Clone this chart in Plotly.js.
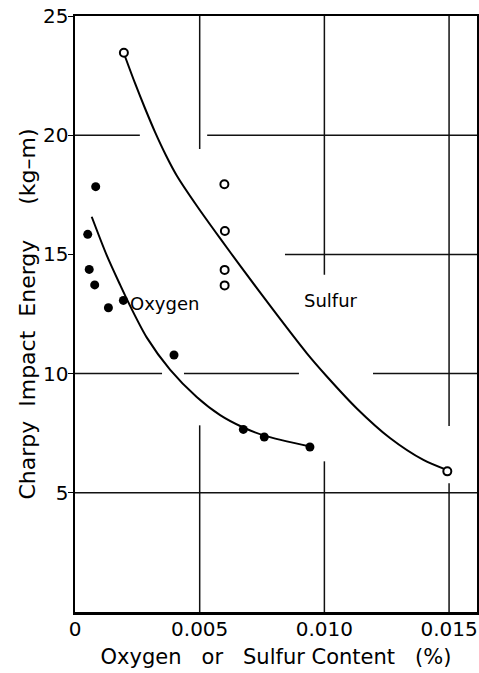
<!DOCTYPE html>
<html>
<head>
<meta charset="utf-8">
<script src="https://cdn.plot.ly/plotly-3.0.1.min.js"></script>
<style>html,body{margin:0;padding:0;background:#fff;}#chart{width:479px;height:673px;}</style>
</head>
<body>
<div id="chart"></div>
<script>
// Measured data points
const oxygenX = [0.00051, 0.00057, 0.00079, 0.00083, 0.00134, 0.00194, 0.00397, 0.00675, 0.00759, 0.00942];
const oxygenY = [15.84, 14.37, 13.72, 17.84, 12.76, 13.07, 10.78, 7.66, 7.34, 6.92];
const sulfurX = [0.00196, 0.00599, 0.00601, 0.00600, 0.00600, 0.01493];
const sulfurY = [23.46, 17.94, 15.98, 14.35, 13.70, 5.90];

// Fitted curves
const oxygenCurveX = [0.00067, 0.00127, 0.00181, 0.00221, 0.00288, 0.00381, 0.00488, 0.00582, 0.00675, 0.00759, 0.00943];
const oxygenCurveY = [16.58, 14.97, 13.72, 12.84, 11.51, 10.17, 9.02, 8.26, 7.74, 7.40, 6.94];
const sulfurCurveX = [0.00201, 0.00241, 0.00281, 0.00321, 0.00365, 0.00409, 0.00489, 0.00582, 0.00662, 0.00795, 0.00929, 0.01010, 0.01130, 0.01263, 0.01397, 0.01491];
const sulfurCurveY = [23.29, 22.17, 21.12, 20.13, 19.15, 18.29, 17.03, 15.67, 14.53, 12.67, 10.86, 9.88, 8.54, 7.30, 6.38, 5.96];

// Axis ticks
const xTickVals = [0, 0.005, 0.010, 0.015];
const xTickText = ['0', '0.005', '0.010', '0.015'];
const yTickVals = [5, 10, 15, 20, 25];
const yTickText = ['5', '10', '15', '20', '25'];

const XMAX = 0.01612, YMAX = 25;
const FONT = 'DejaVu Sans, sans-serif';
const SP = '\u00A0';

// Broken grid segments [x0, x1, y0, y1]
const gridSegs = [
  [0, 0.0026, 20, 20], [0.0053, XMAX, 20, 20],
  [0.00842, XMAX, 15, 15],
  [0, 0.00349, 10, 10], [0.00437, 0.00898, 10, 10], [0.01195, XMAX, 10, 10],
  [0, XMAX, 5, 5],
  [0.005, 0.005, 19.42, 25], [0.005, 0.005, 0, 7.83],
  [0.010, 0.010, 14.15, 25], [0.010, 0.010, 0, 6.32],
  [0.015, 0.015, 7.8, 25], [0.015, 0.015, 0, 5.4]
];
const shapes = gridSegs.map(s => ({
  type: 'line', xref: 'x', yref: 'y', x0: s[0], x1: s[1], y0: s[2], y1: s[3],
  line: {color: '#111', width: 1.5}, layer: 'below'
}));

const traces = [
  {x: oxygenCurveX, y: oxygenCurveY, mode: 'lines', line: {color: '#000', width: 2, shape: 'spline', smoothing: 0.8}, hoverinfo: 'skip'},
  {x: sulfurCurveX, y: sulfurCurveY, mode: 'lines', line: {color: '#000', width: 2, shape: 'spline', smoothing: 0.8}, hoverinfo: 'skip'},
  {x: oxygenX, y: oxygenY, mode: 'markers', marker: {symbol: 'circle', size: 9, color: '#000'}},
  {x: sulfurX, y: sulfurY, mode: 'markers', marker: {symbol: 'circle', size: 8, color: '#fff', line: {color: '#000', width: 2}}}
];

const layout = {
  width: 479, height: 673,
  margin: {l: 75, r: 2, t: 16, b: 61},
  paper_bgcolor: '#fff', plot_bgcolor: '#fff',
  showlegend: false,
  font: {family: FONT, size: 21, color: '#000'},
  xaxis: {
    range: [0, XMAX], showgrid: false, zeroline: false,
    showline: true, linecolor: '#000', linewidth: 2.5, mirror: true,
    tickvals: xTickVals, ticktext: xTickText, ticks: '', ticklabelstandoff: -3,
    tickfont: {family: FONT, size: 20, color: '#000'},
    title: {text: 'Oxygen' + SP + SP + ' or' + SP + SP + ' Sulfur Content' + SP + SP + ' (%)', font: {family: FONT, size: 21, color: '#000'}, standoff: 10}
  },
  yaxis: {
    range: [0, YMAX], showgrid: false, zeroline: false,
    showline: true, linecolor: '#000', linewidth: 2.5, mirror: true,
    tickvals: yTickVals, ticktext: yTickText, ticks: 'outside', ticklen: 5, tickcolor: '#000', ticklabelstandoff: -5,
    tickfont: {family: FONT, size: 20, color: '#000'},
    title: {text: 'Charpy' + SP + ' Impact' + SP + ' Energy' + SP + SP + SP + SP + ' (kg\u2013m)', font: {family: FONT, size: 22, color: '#000'}, standoff: 2}
  },
  shapes: shapes,
  annotations: [
    {x: 0.00213, y: 12.95, xref: 'x', yref: 'y', text: 'Oxygen', showarrow: false, xanchor: 'left', yanchor: 'middle', font: {family: FONT, size: 18, color: '#000'}},
    {x: 0.00912, y: 13.05, xref: 'x', yref: 'y', text: 'Sulfur', showarrow: false, xanchor: 'left', yanchor: 'middle', font: {family: FONT, size: 18, color: '#000'}}
  ]
};

Plotly.newPlot('chart', traces, layout, {staticPlot: true, displayModeBar: false});
</script>
</body>
</html>
